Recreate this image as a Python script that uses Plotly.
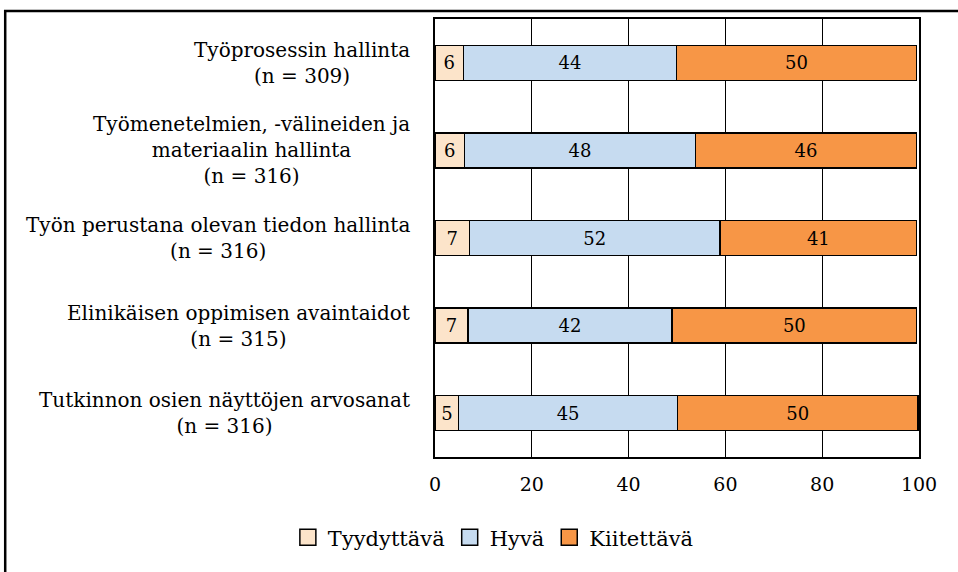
import plotly.graph_objects as go

# Datos (%)
CATEGORIAS = [
    "Työprosessin hallinta<br>(n = 309)",
    "Työmenetelmien, -välineiden ja<br>materiaalin hallinta<br>(n = 316)",
    "Työn perustana olevan tiedon hallinta<br>(n = 316)",
    "Elinikäisen oppimisen avaintaidot<br>(n = 315)",
    "Tutkinnon osien näyttöjen arvosanat<br>(n = 316)",
]
KEYS = ["c1", "c2", "c3", "c4", "c5"]
TYYDYTTAVA = [5.9, 6.1, 7.1, 6.8, 4.9]
HYVA = [44.0, 47.7, 51.8, 42.2, 45.2]
KIITETTAVA = [49.6, 45.7, 40.6, 50.5, 49.7]
# etiquetas redondeadas tal como aparecen
TYYDYTTAVA_LBL = [6, 6, 7, 7, 5]
HYVA_LBL = [44, 48, 52, 42, 45]
KIITETTAVA_LBL = [50, 46, 41, 50, 50]

SERIES = [
    ("Tyydyttävä", TYYDYTTAVA, TYYDYTTAVA_LBL, "#FCE4CA"),
    ("Hyvä", HYVA, HYVA_LBL, "#C6DBF0"),
    ("Kiitettävä", KIITETTAVA, KIITETTAVA_LBL, "#F79646"),
]

FONT = "DejaVu Serif, Liberation Serif, serif"

fig = go.Figure()
for name, vals, lbls, color in SERIES:
    fig.add_trace(go.Bar(
        y=KEYS, x=vals, orientation="h", name=name,
        marker=dict(color=color, line=dict(color="black", width=1.5)),
        text=[str(v) for v in lbls], textposition="inside",
        insidetextanchor="middle",
        textfont=dict(family=FONT, size=18, color="black"),
        showlegend=False,
    ))
    # dummy para leyenda con símbolo más grande
    fig.add_trace(go.Scatter(
        x=[None], y=[None], mode="markers", name=name,
        marker=dict(symbol="square", size=22, color=color,
                    line=dict(color="black", width=1.5)),
    ))

# Etiquetas de categoría centradas
for k, lab in zip(KEYS, CATEGORIAS):
    fig.add_annotation(
        x=-0.047, xref="paper", y=k, yref="y", text=lab,
        xanchor="right", yanchor="middle", align="center", showarrow=False,
        font=dict(family=FONT, size=20, color="black"),
    )

# Marco exterior
fig.add_shape(type="rect", xref="paper", yref="paper",
              x0=-0.888, x1=1.3, y0=-0.6, y1=1.018,
              line=dict(color="black", width=2.5))

fig.update_layout(
    barmode="stack",
    bargap=0.6,
    width=958, height=572,
    margin=dict(l=435, r=39, t=19, b=115),
    plot_bgcolor="white",
    paper_bgcolor="white",
    font=dict(family=FONT, size=19, color="black"),
    uniformtext=dict(minsize=18, mode="show"),
    xaxis=dict(
        range=[0, 100], tickvals=[0, 20, 40, 60, 80, 100],
        showgrid=True, gridcolor="black", gridwidth=1,
        showline=True, linecolor="black", linewidth=1.5, mirror=True,
        zeroline=False, ticks="", ticklabelstandoff=9,
        tickfont=dict(family=FONT, size=19),
        fixedrange=True,
    ),
    yaxis=dict(
        categoryorder="array", categoryarray=KEYS, autorange="reversed",
        showticklabels=False, showgrid=False,
        showline=True, linecolor="black", linewidth=1.5, mirror=True,
        fixedrange=True,
    ),
    legend=dict(
        orientation="h", xref="container", yref="container",
        x=0.515, y=0.06, xanchor="center", yanchor="middle",
        font=dict(family=FONT, size=21),
        traceorder="normal", itemwidth=30,
    ),
)

fig.write_html("out.html", config={"displayModeBar": False},
               post_script="document.body.style.margin='0';")
